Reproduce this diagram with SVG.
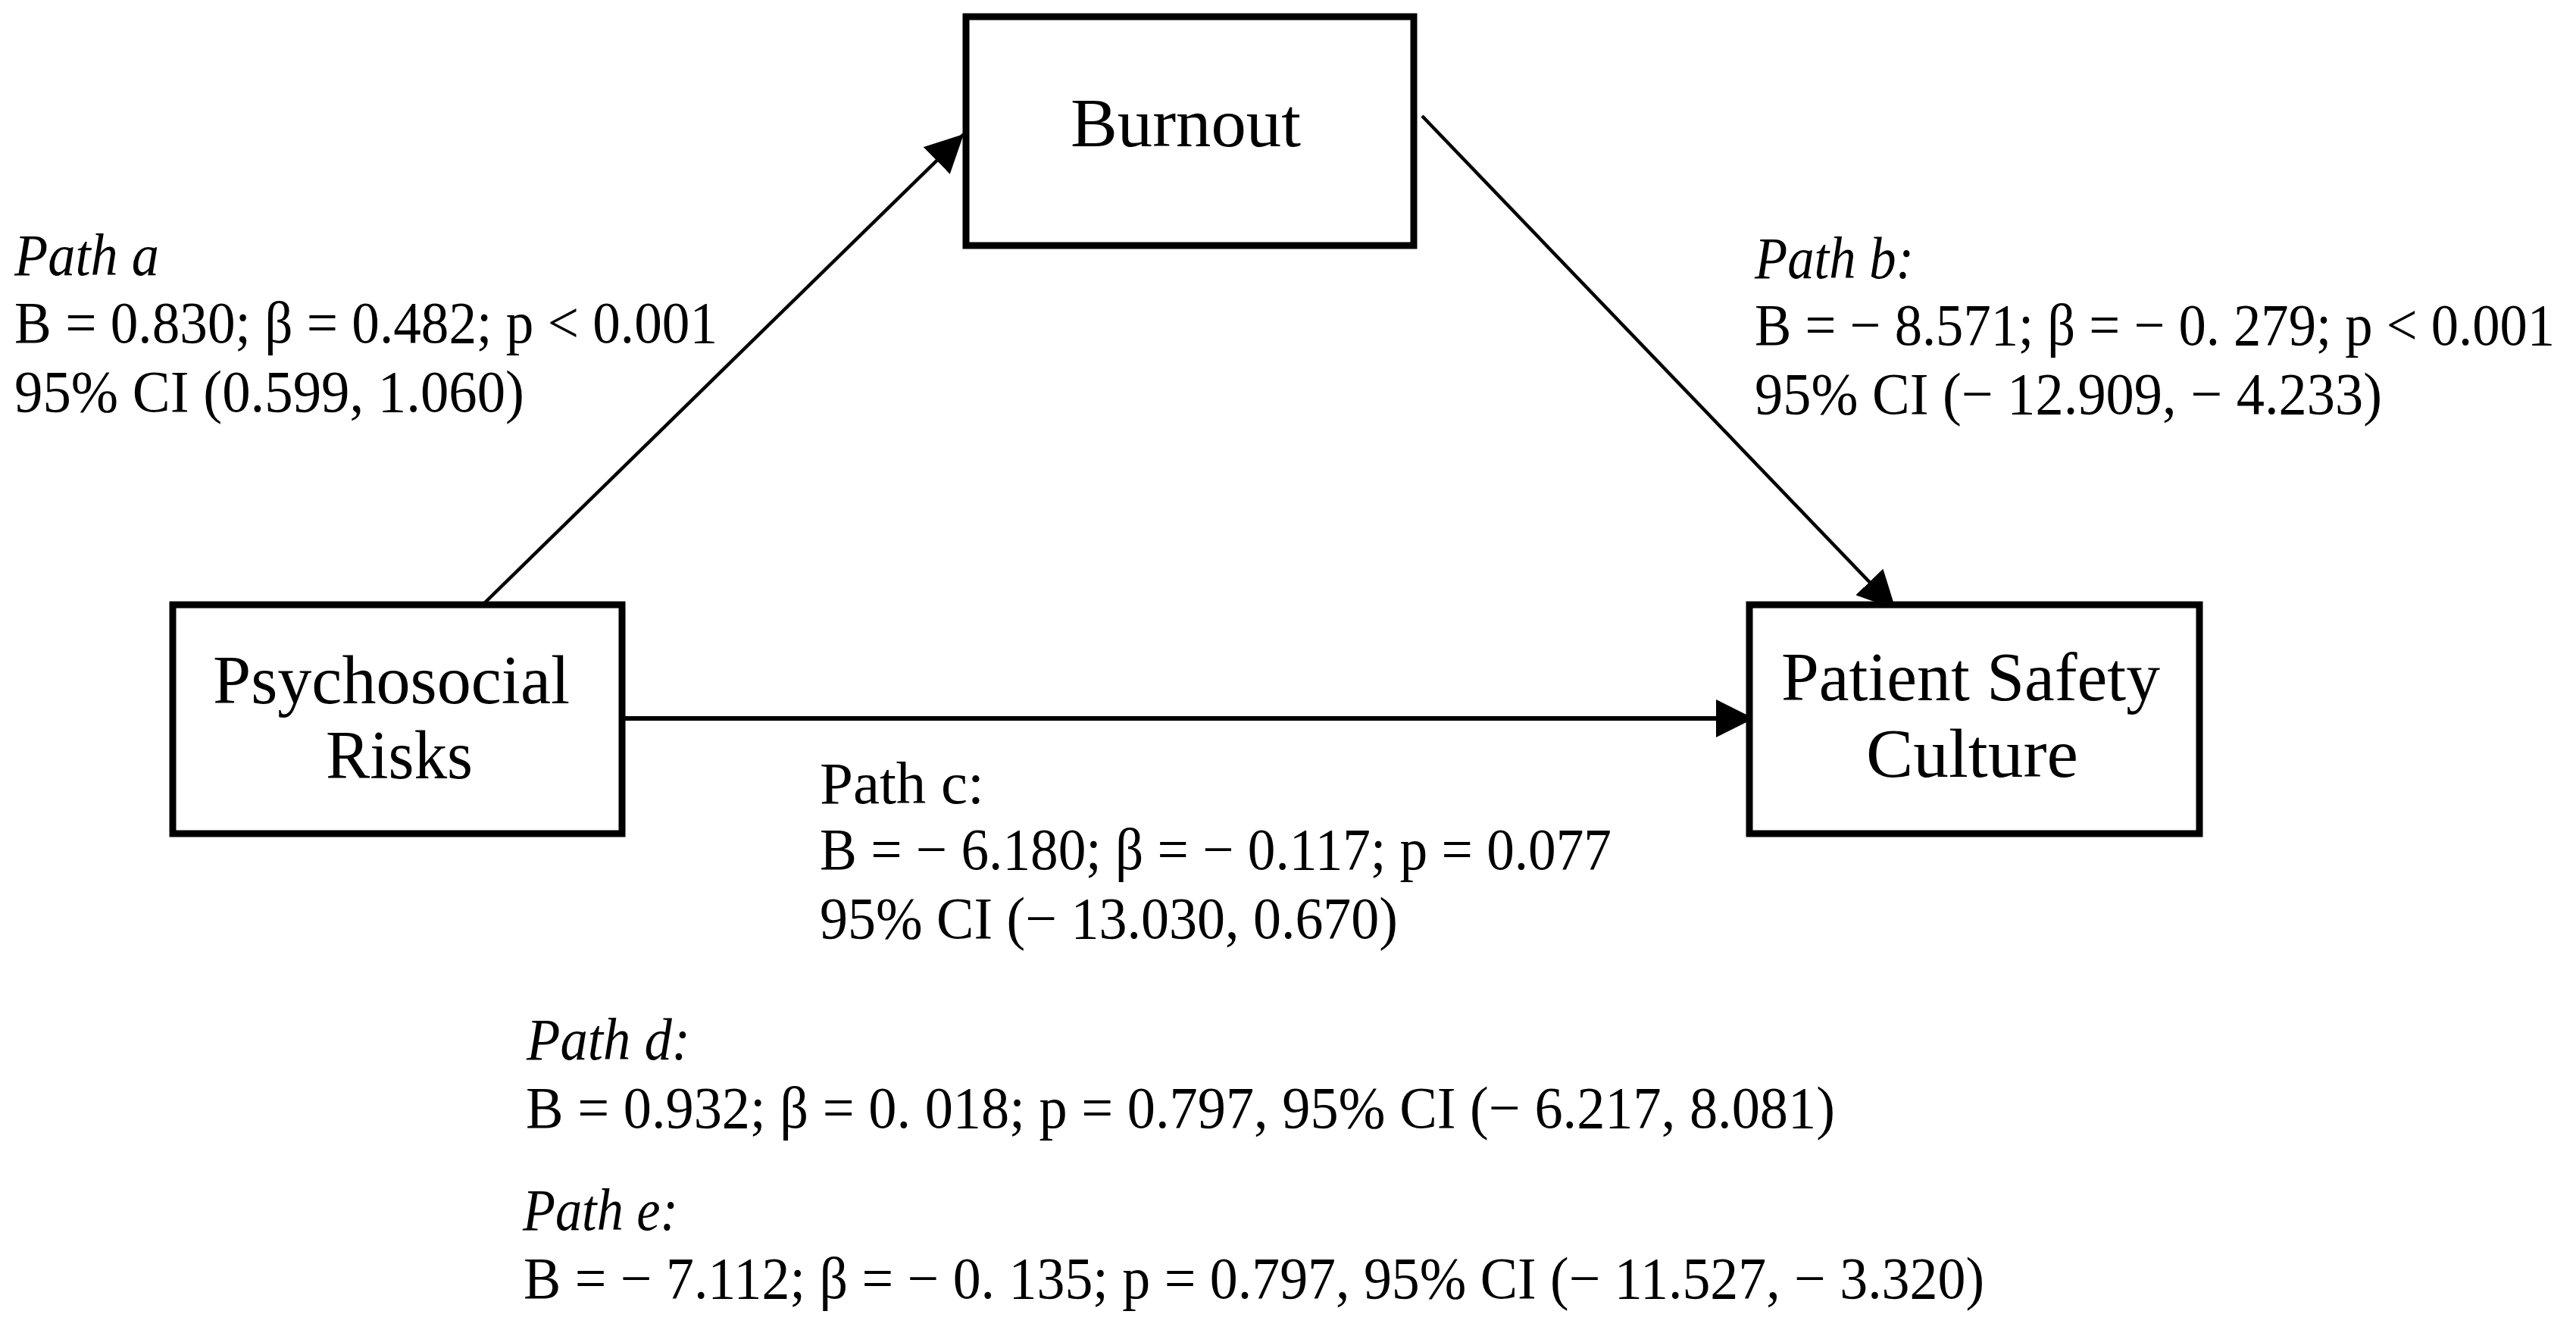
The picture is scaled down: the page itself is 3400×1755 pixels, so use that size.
<svg xmlns="http://www.w3.org/2000/svg" width="3400" height="1755" viewBox="0 0 3400 1755">
<style>
.box{fill:#fff;stroke:#000;stroke-width:9}
.node{font-family:"Liberation Serif","DejaVu Serif",serif;font-size:90px;fill:#000}
.lbl{font-family:"Liberation Serif","DejaVu Serif",serif;font-size:78px;fill:#000}
.it{font-style:italic}
.conn{stroke:#000;fill:none}
</style>
<defs>
<marker id="ah" viewBox="0 0 50 50" refX="50" refY="25" markerWidth="50" markerHeight="50" markerUnits="userSpaceOnUse" orient="auto">
<path d="M0,0 L50,25 L0,50 z" fill="#000"/>
</marker>
</defs>
<rect width="3400" height="1755" fill="#fff"/>
<g id="connectors">
<line class="conn" x1="632" y1="803" x2="1272" y2="177" stroke-width="4.5" marker-end="url(#ah)"/>
<line class="conn" x1="1877" y1="153" x2="2502" y2="804" stroke-width="4.5" marker-end="url(#ah)"/>
<line class="conn" x1="822" y1="948" x2="2315" y2="948" stroke-width="6" marker-end="url(#ah)"/>
</g>
<g id="burnout">
<rect class="box" x="1275" y="22" width="591" height="302"/>
<text class="node" x="1413" y="193" textLength="304" lengthAdjust="spacingAndGlyphs">Burnout</text>
</g>
<g id="psychosocial-risks">
<rect class="box" x="228" y="798" width="593" height="302"/>
<text class="node" x="281" y="928" textLength="471" lengthAdjust="spacingAndGlyphs">Psychosocial</text>
<text class="node" x="430" y="1027" textLength="194" lengthAdjust="spacingAndGlyphs">Risks</text>
</g>
<g id="patient-safety-culture">
<rect class="box" x="2309" y="798" width="594" height="302"/>
<text class="node" x="2351" y="924" textLength="500" lengthAdjust="spacingAndGlyphs">Patient Safety</text>
<text class="node" x="2463" y="1025" textLength="280" lengthAdjust="spacingAndGlyphs">Culture</text>
</g>
<g id="path-a-label">
<text class="lbl it" x="19" y="363" textLength="191" lengthAdjust="spacingAndGlyphs">Path a</text>
<text class="lbl" x="19" y="452" textLength="928" lengthAdjust="spacingAndGlyphs">B = 0.830; β = 0.482; p &lt; 0.001</text>
<text class="lbl" x="19" y="543" textLength="673" lengthAdjust="spacingAndGlyphs">95% CI (0.599, 1.060)</text>
</g>
<g id="path-b-label">
<text class="lbl it" x="2316" y="367" textLength="210" lengthAdjust="spacingAndGlyphs">Path b:</text>
<text class="lbl" x="2316" y="455" textLength="1056" lengthAdjust="spacingAndGlyphs">B = − 8.571; β = − 0. 279; p &lt; 0.001</text>
<text class="lbl" x="2316" y="546" textLength="828" lengthAdjust="spacingAndGlyphs">95% CI (− 12.909, − 4.233)</text>
</g>
<g id="path-c-label">
<text class="lbl" x="1082" y="1060" textLength="217" lengthAdjust="spacingAndGlyphs">Path c:</text>
<text class="lbl" x="1082" y="1147" textLength="1045" lengthAdjust="spacingAndGlyphs">B = − 6.180; β = − 0.117; p = 0.077</text>
<text class="lbl" x="1082" y="1238" textLength="763" lengthAdjust="spacingAndGlyphs">95% CI (− 13.030, 0.670)</text>
</g>
<g id="path-d-label">
<text class="lbl it" x="695" y="1398" textLength="216" lengthAdjust="spacingAndGlyphs">Path d:</text>
<text class="lbl" x="694" y="1488" textLength="1728" lengthAdjust="spacingAndGlyphs">B = 0.932; β = 0. 018; p = 0.797, 95% CI (− 6.217, 8.081)</text>
</g>
<g id="path-e-label">
<text class="lbl it" x="690" y="1623" textLength="205" lengthAdjust="spacingAndGlyphs">Path e:</text>
<text class="lbl" x="691" y="1713" textLength="1928" lengthAdjust="spacingAndGlyphs">B = − 7.112; β = − 0. 135; p = 0.797, 95% CI (− 11.527, − 3.320)</text>
</g>
</svg>
